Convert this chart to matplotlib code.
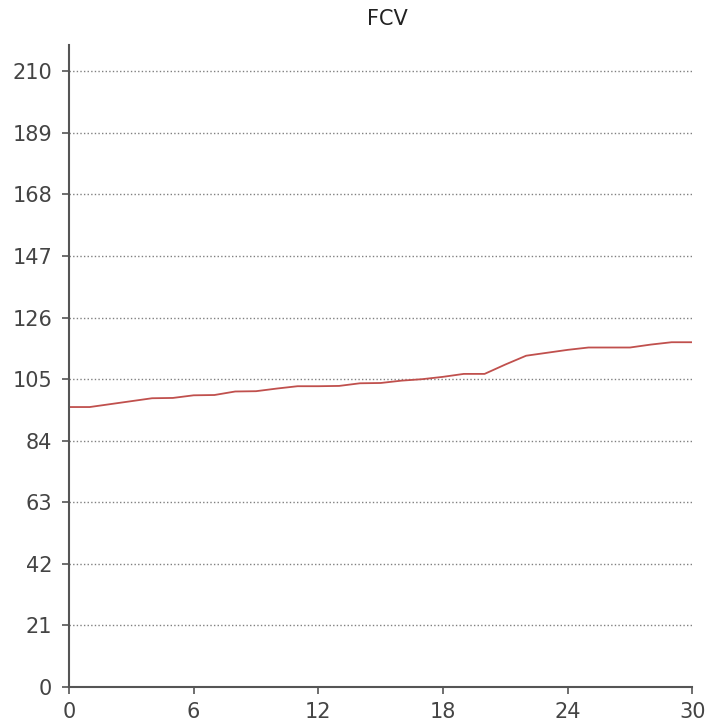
import matplotlib
matplotlib.use('Agg')
import matplotlib.pyplot as plt

# values
days = list(range(31))
fcv = [95.5, 95.5, 96.5, 97.5, 98.5, 98.6, 99.5, 99.6, 100.8, 100.9,
       101.8, 102.6, 102.6, 102.7, 103.6, 103.7, 104.5, 105.0, 105.8, 106.8,
       106.8, 110.0, 113.0, 114.0, 115.0, 115.8, 115.8, 115.8, 116.8, 117.6,
       117.6]
y_ticks = [0, 21, 42, 63, 84, 105, 126, 147, 168, 189, 210]
x_ticks = [0, 6, 12, 18, 24, 30]

fig = plt.figure(figsize=(7.06, 7.24), dpi=100)
ax = fig.add_axes([0.0977, 0.051, 0.883, 0.887])

ax.plot(days, fcv, color='#c0504d', linewidth=1.3)

ax.set_xlim(0, 30)
ax.set_ylim(0, 219)
ax.set_xticks(x_ticks)
ax.set_yticks(y_ticks)
ax.grid(axis='y', linestyle=(0, (1, 1.6)), color='#808080', linewidth=1)
ax.set_axisbelow(True)

for side in ['top', 'right']:
    ax.spines[side].set_visible(False)
for side in ['left', 'bottom']:
    ax.spines[side].set_color('#555555')
    ax.spines[side].set_linewidth(1.5)

ax.tick_params(colors='#555555', labelcolor='#444444', labelsize=15,
               length=5, width=1.2, direction='out')
ax.tick_params(axis='y', pad=7)
ax.tick_params(axis='x', pad=6)

fig.text(387 / 706, 1 - 19 / 724, 'FCV', ha='center', va='center',
         fontsize=15, color='#222222')

fig.savefig('out.png', dpi=100)
